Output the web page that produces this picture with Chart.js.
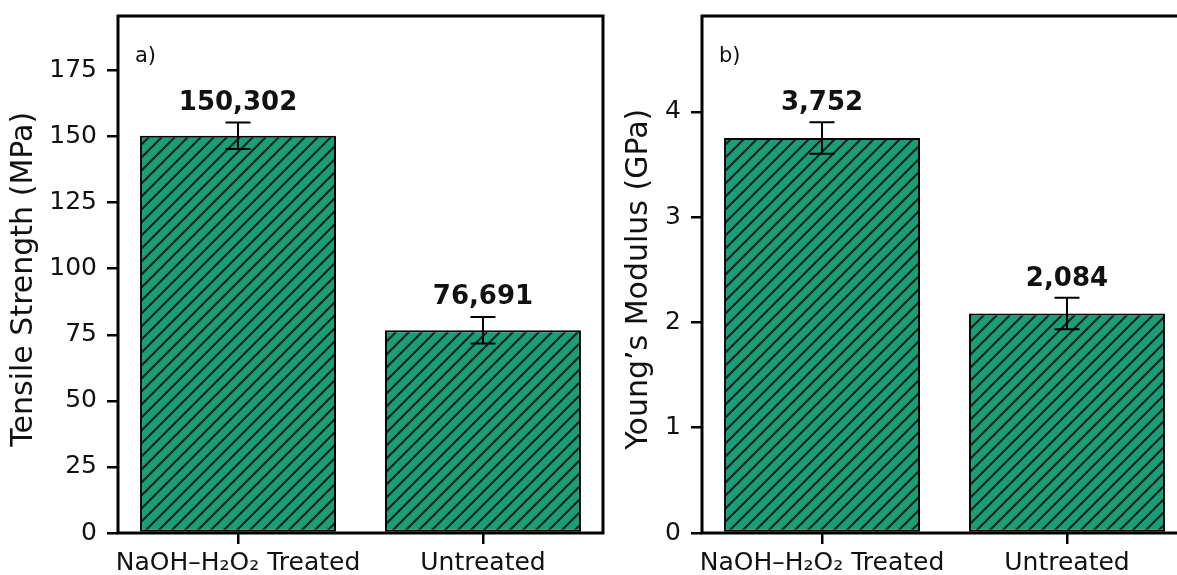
<!DOCTYPE html>
<html><head><meta charset="utf-8">
<script src="https://cdn.jsdelivr.net/npm/chart.js@4.4.1/dist/chart.umd.min.js"></script>
<style>
html,body{margin:0;padding:0;background:#fff;overflow:hidden;width:1177px;height:575px;position:relative;}
#c1{position:absolute;left:0;top:0;}
#c2{position:absolute;left:610px;top:0;}
</style></head><body>
<canvas id="c1" width="610" height="575"></canvas>
<canvas id="c2" width="590" height="575"></canvas>
<script>
// ---- data ----
const categories = ['NaOH–H₂O₂ Treated', 'Untreated'];
const categoryPositions = [0, 1];
const tensileValues = [150.302, 76.691];
const tensileErrors = [5.0, 5.0];
const modulusValues = [3.752, 2.084];
const modulusErrors = [0.15, 0.15];
const tensileTicks = [0, 25, 50, 75, 100, 125, 150, 175];
const modulusTicks = [0, 1, 2, 3, 4];
const tensileMax = 195.6;
const modulusMax = 4.91;

Chart.defaults.font.family = '"DejaVu Sans", sans-serif';

function hatchPattern() {
  const s = 13;
  const c = document.createElement('canvas');
  c.width = s; c.height = s;
  const g = c.getContext('2d');
  g.fillStyle = '#1b9e77';
  g.fillRect(0, 0, s, s);
  g.strokeStyle = '#0c241b';
  g.lineWidth = 2.1;
  g.beginPath();
  g.moveTo(0, s); g.lineTo(s, 0);
  g.moveTo(-1, 1); g.lineTo(1, -1);
  g.moveTo(s - 1, s + 1); g.lineTo(s + 1, s - 1);
  g.stroke();
  return g.createPattern(c, 'repeat');
}

function fmt(v) { return v.toFixed(3).replace('.', ','); }

function annotPlugin(letter, values, errors, labelOffset) {
  return {
    id: 'annot' + letter,
    afterDatasetsDraw(chart) {
      const ctx = chart.ctx, ys = chart.scales.y, meta = chart.getDatasetMeta(0);
      ctx.save();
      meta.data.forEach((bar, i) => {
        const x = bar.x;
        const yt = ys.getPixelForValue(values[i] + errors[i]);
        const yb = ys.getPixelForValue(values[i] - errors[i]);
        ctx.strokeStyle = '#000'; ctx.lineWidth = 2;
        ctx.beginPath();
        ctx.moveTo(x, yt); ctx.lineTo(x, yb);
        ctx.moveTo(x - 12.5, yt); ctx.lineTo(x + 12.5, yt);
        ctx.moveTo(x - 12.5, yb); ctx.lineTo(x + 12.5, yb);
        ctx.stroke();
        ctx.fillStyle = '#111';
        ctx.font = 'bold 26px "DejaVu Sans"';
        ctx.textAlign = 'center'; ctx.textBaseline = 'alphabetic';
        ctx.fillText(fmt(values[i]), x, yt - labelOffset);
      });
      const a = chart.chartArea;
      ctx.strokeStyle = '#000'; ctx.lineWidth = 3;
      ctx.strokeRect(a.left, a.top, a.right - a.left, a.bottom - a.top);
      ctx.fillStyle = '#111';
      ctx.font = '21px "DejaVu Sans"';
      ctx.textAlign = 'left'; ctx.textBaseline = 'alphabetic';
      ctx.fillText(letter + ')', a.left + 17, a.top + 46);
      ctx.restore();
    }
  };
}

function makeChart(id, values, errors, yTicks, yMax, yTitle, letter, yWidth, titlePad, rightPad, labelOffset) {
  const pattern = hatchPattern();
  return new Chart(document.getElementById(id), {
    type: 'bar',
    data: {
      datasets: [{
        data: categoryPositions.map((p, i) => ({ x: p, y: values[i] })),
        backgroundColor: pattern,
        borderColor: '#000',
        borderWidth: 2,
        borderSkipped: false,
        categoryPercentage: 0.8,
        barPercentage: 1.0
      }]
    },
    options: {
      responsive: false,
      animation: false,
      events: [],
      layout: { padding: { left: 0, top: 16, right: rightPad, bottom: 0 } },
      plugins: { legend: { display: false }, tooltip: { enabled: false } },
      scales: {
        x: {
          type: 'linear', min: -0.49, max: 1.49, offset: false,
          afterBuildTicks: s => { s.ticks = categoryPositions.map(v => ({ value: v })); },
          ticks: { callback: (v, i) => categories[i], font: { size: 25 }, color: '#111', padding: 4, maxRotation: 0, autoSkip: false },
          grid: { drawOnChartArea: false, drawTicks: true, tickLength: 11, color: '#000', lineWidth: 2.5, offset: false },
          border: { display: false },
          afterFit: s => { s.height = 42; s.paddingLeft = 0; s.paddingRight = 0; s.paddingTop = 0; s.paddingBottom = 0; }
        },
        y: {
          min: 0, max: yMax,
          afterBuildTicks: s => { s.ticks = yTicks.map(v => ({ value: v })); },
          ticks: { font: { size: 25 }, color: '#111', padding: 10 },
          grid: { drawOnChartArea: false, drawTicks: true, tickLength: 11, color: '#000', lineWidth: 2.5 },
          border: { display: false },
          title: { display: true, text: yTitle, font: { size: 30 }, color: '#111', padding: { top: titlePad, bottom: 0 } },
          afterFit: s => { s.width = yWidth; s.paddingLeft = 0; s.paddingRight = 0; s.paddingTop = 0; s.paddingBottom = 0; }
        }
      }
    },
    plugins: [annotPlugin(letter, values, errors, labelOffset)]
  });
}

makeChart('c1', tensileValues, tensileErrors, tensileTicks, tensileMax, 'Tensile Strength (MPa) ', 'a', 118, 6.5, 7, 13);
makeChart('c2', modulusValues, modulusErrors, modulusTicks, modulusMax, 'Young\u2019s Modulus (GPa) ', 'b', 92, 11.5, 13, 12);
</script>
</body></html>
